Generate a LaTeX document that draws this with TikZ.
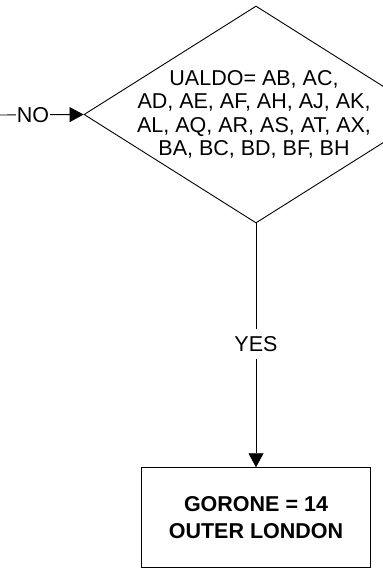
\documentclass[tikz,border=0pt]{standalone}
\usepackage{fontspec}
\setmainfont{Liberation Sans}
\usetikzlibrary{shapes.geometric,arrows.meta}
\begin{document}
\begin{tikzpicture}[x=1pt,y=1pt,
  line width=0.9pt,
  arr/.style={-{Triangle[length=14pt,width=15pt]}},
  lbl/.style={fill=white,inner sep=1pt,font=\fontsize{21.5}{24}\selectfont}]
\useasboundingbox (0,0) rectangle (383,-574);
\clip (0,0) rectangle (383,-574);
\node[diamond,draw,minimum width=344pt,minimum height=217pt,inner sep=0pt] (d) at (256,-114.5) {};
\node[align=center,inner sep=0pt,font=\fontsize{21.5}{23.5}\selectfont] (dt) at (254,-114.5)
  {UALDO= AB, AC,\\AD, AE, AF, AH, AJ, AK,\\AL, AQ, AR, AS, AT, AX,\\BA, BC, BD, BF, BH};
\node[draw,minimum width=229pt,minimum height=100pt,align=center,
  font=\fontsize{21.5}{27}\selectfont\bfseries] (b) at (256,-517.7)
  {GORONE = 14\\OUTER LONDON};
\coordinate (s) at (-2,-115);
\draw[arr] (s) -- node[lbl,pos=0.41] {NO} (d.west);
\draw[arr] (d.south) -- node[lbl,inner ysep=7pt,pos=0.494] {YES} (b.north);
\end{tikzpicture}
\end{document}
